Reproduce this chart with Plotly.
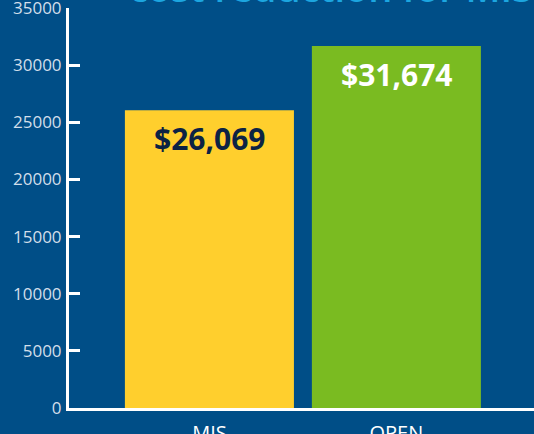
import plotly.graph_objects as go

categories = ["MIS", "OPEN"]
costs = [26069, 31674]
bar_colors = ["#ffcf2d", "#7abb21"]
label_colors = ["#0c2344", "#ffffff"]
labels = ["$26,069", "$31,674"]
y_ticks = [0, 5000, 10000, 15000, 20000, 25000, 30000, 35000]
y_tick_text = ["0", "5000", "10000", "15000", "20000", "25000", "30000", "35000"]
title_text = "cost reduction for MIS"

BG = "#004e87"

fig = go.Figure()
fig.add_trace(go.Bar(
    x=categories, y=costs,
    marker=dict(color=bar_colors, line=dict(width=0)),
    width=0.904,
    hoverinfo="skip",
))

for c, v, t, col in zip(categories, costs, labels, label_colors):
    fig.add_annotation(
        x=c, y=v, xref="x", yref="y",
        text=t, showarrow=False,
        yanchor="middle", yshift=-28,
        font=dict(family="Open Sans", size=30, color=col, weight=700),
    )

fig.add_annotation(
    x=(127 - 69) / 465, y=1, xref="paper", yref="paper",
    xanchor="left", yanchor="bottom", yshift=-7,
    text=title_text, showarrow=False,
    font=dict(family="Open Sans", size=38, color="#1ca6e0", weight=600),
)

fig.update_layout(
    width=534, height=434,
    margin=dict(l=69, r=0, t=8, b=26, pad=0),
    paper_bgcolor=BG, plot_bgcolor=BG,
    showlegend=False,
    xaxis=dict(
        range=[-0.751, 1.736],
        automargin=False,
        showline=True, linecolor="white", linewidth=3,
        ticks="", showgrid=False, zeroline=False,
        tickfont=dict(family="Open Sans", size=20, color="white"),
        ticklabelstandoff=5,
        ticklabeloverflow="allow",
    ),
    yaxis=dict(
        range=[0, 35010],
        automargin=False,
        tickvals=y_ticks, ticktext=y_tick_text,
        showline=True, linecolor="white", linewidth=3,
        ticks="inside", ticklen=11, tickwidth=2.5, tickcolor="white",
        showgrid=False, zeroline=False,
        tickfont=dict(family="Open Sans", size=17, color="#d2deea"),
        ticklabelstandoff=1,
        ticklabeloverflow="allow",
    ),
)

fig.write_html(
    "out.html",
    config={"displayModeBar": False},
    post_script="document.body.style.margin='0';document.body.style.overflow='hidden';",
)
